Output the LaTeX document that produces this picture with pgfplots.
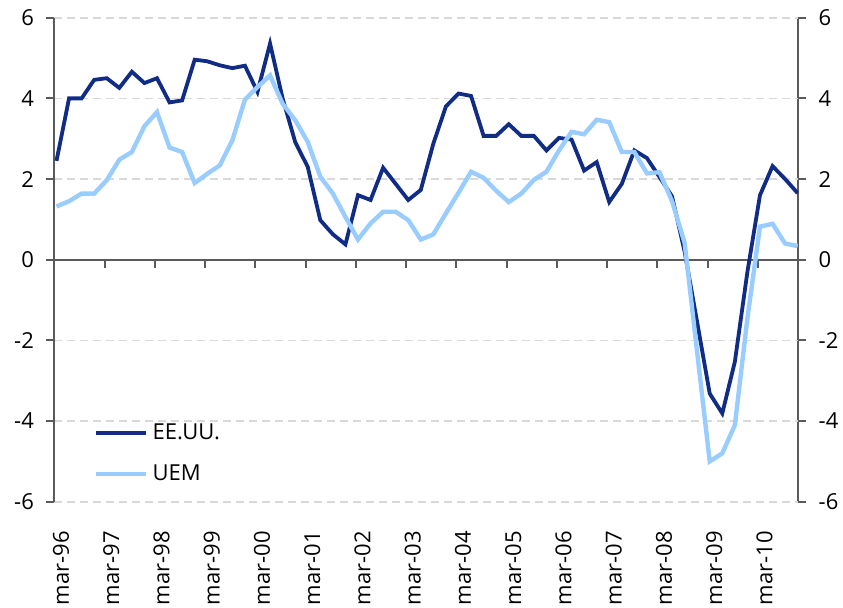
\documentclass[border=0pt]{standalone}
\usepackage{fontspec}
\setmainfont{Open Sans}
\usepackage{pgfplots}
\usepackage{pgfplotstable}
\pgfplotsset{compat=1.18}
\definecolor{usa}{RGB}{16,44,132}
\definecolor{uem}{RGB}{153,204,255}
\definecolor{axgray}{RGB}{90,90,90}
\definecolor{gridgray}{RGB}{217,217,217}

\pgfplotstableread{
i usa uem
0 2.45 1.32
1 4.00 1.45
2 4.00 1.64
3 4.46 1.64
4 4.50 1.97
5 4.26 2.48
6 4.66 2.67
7 4.38 3.31
8 4.50 3.66
9 3.90 2.78
10 3.95 2.67
11 4.96 1.90
12 4.92 2.13
13 4.82 2.34
14 4.75 2.96
15 4.81 3.97
16 4.16 4.28
17 5.36 4.57
18 4.00 3.87
19 2.92 3.46
20 2.30 2.92
21 0.98 2.06
22 0.63 1.64
23 0.38 1.06
24 1.60 0.50
25 1.48 0.90
26 2.28 1.19
27 1.88 1.19
28 1.48 0.98
29 1.73 0.50
30 2.88 0.63
31 3.80 1.15
32 4.12 1.66
33 4.06 2.18
34 3.07 2.03
35 3.07 1.71
36 3.36 1.43
37 3.07 1.64
38 3.07 1.98
39 2.71 2.18
40 3.02 2.71
41 2.98 3.17
42 2.21 3.11
43 2.42 3.47
44 1.43 3.41
45 1.88 2.67
46 2.71 2.67
47 2.52 2.14
48 2.05 2.17
49 1.57 1.45
50 0.20 0.42
51 -1.55 -2.30
52 -3.32 -5.00
53 -3.81 -4.80
54 -2.53 -4.10
55 -0.30 -1.45
56 1.60 0.82
57 2.32 0.89
58 2.00 0.40
59 1.65 0.34
}\datatable

\begin{document}
\fontsize{11}{13}\selectfont
\begin{tikzpicture}
\path[use as bounding box] (-27.15pt,-52.65pt) rectangle (394.35pt,250.85pt);
% right axis and zero line
\begin{axis}[
  scale only axis, width=372pt, height=242pt,
  xmin=-0.175, xmax=59.05, ymin=-6, ymax=6,
  axis y line*=right, axis x line=middle,
  x axis line style={-, draw=axgray, line width=0.9pt},
  y axis line style={-, draw=axgray, line width=0.9pt},
  xtick={-0.17,3.83,...,55.9}, xticklabels={},
  ytick={-6,-4,-2,0,2,4,6}, yticklabels={-6,-4,-2,0,2,4,6},
  tick align=outside, major tick length=4pt,
  tick style={draw=axgray, line width=0.9pt},
  yticklabel style={anchor=west, inner sep=0pt, xshift=6pt, font=\fontsize{11}{13}\selectfont},
]
\addplot[draw=none] coordinates {(0,0)};
\end{axis}
% main axis
\begin{axis}[
  scale only axis, width=372pt, height=242pt,
  xmin=-0.175, xmax=59.05, ymin=-6, ymax=6,
  axis y line*=left, axis x line*=bottom,
  x axis line style={draw=none},
  y axis line style={-, draw=axgray, line width=0.9pt},
  xtick={-0.17,3.83,...,55.9},
  xticklabels={mar-96,mar-97,mar-98,mar-99,mar-00,mar-01,mar-02,mar-03,mar-04,mar-05,mar-06,mar-07,mar-08,mar-09,mar-10},
  xticklabel style={xshift=3.3pt, yshift=-10.5pt, rotate=90, anchor=east, inner sep=0pt, font=\fontsize{11}{13}\selectfont},
  xtick style={draw=none},
  ytick={-6,-4,-2,2,4,6}, yticklabels={-6,-4,-2,2,4,6},
  extra y ticks={0}, extra y tick labels={0},
  extra y tick style={grid=none},
  tick align=outside, major tick length=4pt,
  ytick style={draw=axgray, line width=0.9pt},
  yticklabel style={anchor=east, inner sep=0pt, xshift=-6pt, font=\fontsize{11}{13}\selectfont},
  ymajorgrids,
  major grid style={draw=gridgray, line width=0.8pt, dash pattern=on 4pt off 2.5pt},
  legend style={draw=none, fill=none, at={(0.045,0.02)}, anchor=south west,
    row sep=7pt, font=\fontsize{11}{13}\selectfont},
  legend cell align=left,
  legend image code/.code={\draw[#1] (0pt,0pt) -- (25pt,0pt);},
]
\addplot[usa, line width=1.9pt] table[x=i, y=usa] {\datatable};
\addlegendentry{EE.UU.}
\addplot[uem, line width=2.2pt] table[x=i, y=uem] {\datatable};
\addlegendentry{UEM}
\end{axis}
\end{tikzpicture}
\end{document}
